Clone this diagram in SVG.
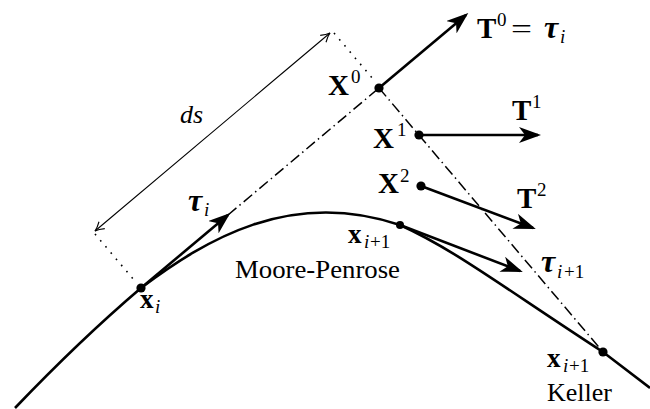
<svg xmlns="http://www.w3.org/2000/svg" width="650" height="409" viewBox="0 0 650 409">
<style>
text{font-family:"Liberation Serif","Times New Roman",serif;fill:#000}
.b{font-weight:bold;font-size:29px}
.bx{font-weight:bold;font-size:27px}
.bi{font-weight:bold;font-style:italic;font-size:32px}
.s{font-size:19px}
.si{font-size:19px;font-style:italic}
.n{font-size:26px}
.dot{fill:#000}
.curve{fill:none;stroke:#000;stroke-width:2.6}
.vec{fill:none;stroke:#000;stroke-width:2.6}
.dd{fill:none;stroke:#000;stroke-width:1.5;stroke-dasharray:11 4 1.5 4}
.dotted{fill:none;stroke:#000;stroke-width:1.6;stroke-dasharray:1.6 6.5}
.dim{fill:none;stroke:#000;stroke-width:1.1}
</style>
<defs>
<marker id="stealth" markerUnits="userSpaceOnUse" markerWidth="24" markerHeight="16" viewBox="0 0 24 16" refX="19" refY="8" orient="auto">
<path d="M0 0 L22 8 L0 16 L6 8 Z" fill="#000"/>
</marker>
<marker id="thin" markerUnits="userSpaceOnUse" markerWidth="14" markerHeight="12" viewBox="-12 -6 14 12" refX="0" refY="0" orient="auto-start-reverse">
<path d="M-9 -4.5 Q-4 -1 0 0 Q-4 1 -9 4.5" fill="none" stroke="#000" stroke-width="1.1"/>
</marker>
</defs>

<g id="curve">
<path class="curve" d="M15 408 Q80 340 141 288 C205 240 290 188 400 225 C455 250 500 285 603 352 L650 388"/>
</g>

<g id="connectors">
<path class="dotted" d="M95 234 L134 280"/>
<path class="dotted" d="M334 33 L373 79"/>
<path class="dim" d="M95 231 L330 33" marker-start="url(#thin)" marker-end="url(#thin)"/>
<path class="dd" d="M228 215 L379 88"/>
<path class="dd" d="M379 88 L603 352"/>
<path class="vec" d="M141 288 L228 215" marker-end="url(#stealth)"/>
<path class="vec" d="M379 88 L466 15" marker-end="url(#stealth)"/>
<path class="vec" d="M419 135 L538 135" marker-end="url(#stealth)"/>
<path class="vec" d="M421 186 L533 228" marker-end="url(#stealth)"/>
<path class="vec" d="M400 225 L520 271" stroke-width="3.2" marker-end="url(#stealth)"/>
</g>

<g id="node-xi">
<circle class="dot" cx="141" cy="288" r="4.6"/>
<text class="bx" x="140" y="308">x</text><text class="si" x="155" y="313">i</text>
</g>

<g id="node-X0">
<circle class="dot" cx="379" cy="88" r="4.6"/>
<text class="b" x="328" y="95">X</text><text class="s" x="351" y="83">0</text>
</g>

<g id="node-X1">
<circle class="dot" cx="419" cy="135" r="4.6"/>
<text class="b" x="373" y="148">X</text><text class="s" x="397" y="136">1</text>
</g>

<g id="node-X2">
<circle class="dot" cx="421" cy="186" r="4.6"/>
<text class="b" x="378" y="193">X</text><text class="s" x="400" y="182">2</text>
</g>

<g id="node-xi1-mp">
<circle class="dot" cx="400" cy="225" r="4"/>
<text class="bx" x="348" y="243">x</text><text class="si" x="364" y="248">i</text><text class="s" x="370" y="248">+1</text>
<text class="n" x="235" y="278" textLength="165" lengthAdjust="spacingAndGlyphs">Moore-Penrose</text>
</g>

<g id="node-xi1-keller">
<circle class="dot" cx="603" cy="352" r="4.6"/>
<text class="bx" x="547" y="367">x</text><text class="si" x="563" y="372">i</text><text class="s" x="569" y="372">+1</text>
<text x="547" y="401" font-size="25" textLength="65" lengthAdjust="spacingAndGlyphs">Keller</text>
</g>

<g id="labels">
<text class="b" x="477" y="38">T</text><text class="s" x="497" y="26">0</text>
<text x="511" y="38" font-size="28" textLength="21" lengthAdjust="spacingAndGlyphs">=</text>
<text class="bi" x="544" y="38">τ</text><text class="si" x="560" y="43">i</text>
<text class="b" x="512" y="120">T</text><text class="s" x="532" y="108">1</text>
<text class="b" x="517" y="208">T</text><text class="s" x="537" y="196">2</text>
<text class="bi" x="188" y="211">τ</text><text class="si" x="204" y="216">i</text>
<text class="bi" x="541" y="272">τ</text><text class="si" x="557" y="278">i</text><text class="s" x="564" y="278">+1</text>
<text x="180" y="123" font-size="26" font-style="italic">ds</text>
</g>
</svg>
